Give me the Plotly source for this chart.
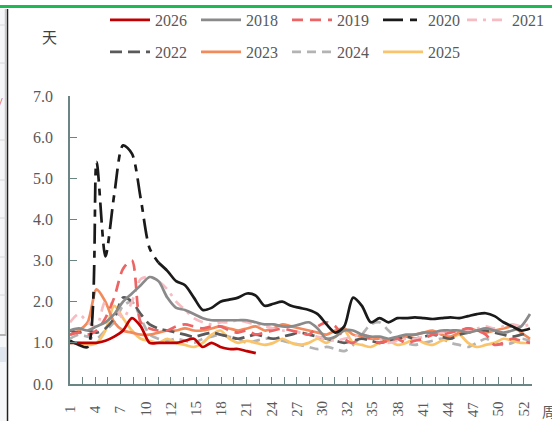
import plotly.graph_objects as go
import numpy as np

weeks = list(range(1, 54))

tick_labels = ["1", "4", "7", "10", "12", "15", "18", "21", "24", "27", "30",
               "32", "35", "38", "41", "44", "47", "50", "52"]

y_2026 = [1.0, 1.0, 1.0, 1.0, 1.05, 1.15, 1.3, 1.6, 1.4, 1.0, 1.0, 1.0, 1.0, 1.05,
          1.1, 0.9, 1.0, 0.9, 0.85, 0.85, 0.8, 0.75]
y_2018 = [1.3, 1.35, 1.3, 1.4, 1.5, 1.7, 2.0, 2.2, 2.4, 2.6, 2.5, 2.1, 1.85, 1.8,
          1.7, 1.6, 1.55, 1.55, 1.55, 1.55, 1.55, 1.5, 1.45, 1.45, 1.4, 1.4, 1.45,
          1.5, 1.35, 1.1, 1.15, 1.3, 1.3, 1.2, 1.15, 1.15, 1.1, 1.15, 1.2, 1.2,
          1.25, 1.25, 1.3, 1.3, 1.3, 1.25, 1.3, 1.35, 1.3, 1.25, 1.3, 1.4, 1.7]
y_2019 = [1.2, 1.25, 1.2, 1.3, 1.6, 2.1, 2.8, 3.0, 1.5, 1.35, 1.3, 1.3, 1.4, 1.45,
          1.4, 1.35, 1.4, 1.4, 1.3, 1.25, 1.3, 1.2, 1.25, 1.3, 1.35, 1.3, 1.25,
          1.2, 1.4, 1.5, 1.4, 1.1, 1.0, 1.2, 1.1, 1.0, 1.05, 1.1, 1.0, 1.05, 1.1,
          1.2, 1.2, 1.25, 1.3, 1.35, 1.3, 1.2, 0.95, 1.0, 1.1, 1.05, 1.0]
y_2020 = [1.05, 0.95, 0.9, 5.4, 3.1, 4.6, 5.8, 5.6, 4.5, 3.3, 2.95, 2.75, 2.5, 2.4,
          2.1, 1.8, 1.85, 2.0, 2.05, 2.1, 2.2, 2.15, 1.9, 1.95, 2.0, 1.9, 1.85,
          1.8, 1.7, 1.45, 1.25, 1.4, 2.1, 1.9, 1.5, 1.6, 1.5, 1.6, 1.6, 1.62, 1.6,
          1.58, 1.6, 1.62, 1.6, 1.65, 1.7, 1.72, 1.65, 1.5, 1.4, 1.3, 1.35]
y_2021 = [1.5, 1.7, 1.5, 1.4, 2.0, 1.9, 1.6, 2.0, 2.55, 2.6, 2.5, 2.3, 2.0, 1.8,
          1.6, 1.5, 1.45, 1.5, 1.5, 1.55, 1.5, 1.45, 1.4, 1.35, 1.3, 1.3, 1.25,
          1.2, 1.15, 1.1, 1.05, 1.1, 1.15, 1.2, 1.15, 1.1, 1.0, 1.05, 1.1, 1.1,
          1.15, 1.2, 1.25, 1.3, 1.3, 1.3, 1.35, 1.4, 1.35, 1.4, 1.45, 1.4, 1.45]
y_2022 = [1.3, 1.25, 1.3, 1.25, 1.35, 1.6, 2.1, 2.0, 1.7, 1.45, 1.35, 1.3, 1.25,
          1.2, 1.15, 1.2, 1.25, 1.2, 1.15, 1.1, 1.15, 1.2, 1.15, 1.1, 1.15, 1.2,
          1.25, 1.2, 1.15, 1.1, 1.05, 1.0, 1.05, 1.1, 1.05, 1.0, 1.05, 1.1, 1.15,
          1.1, 1.15, 1.2, 1.15, 1.1, 1.2, 1.25, 1.3, 1.3, 1.25, 1.2, 1.15, 1.2, 1.25]
y_2023 = [1.2, 1.3, 1.5, 2.3, 2.0, 1.5, 1.3, 1.25, 1.2, 1.2, 1.25, 1.3, 1.3, 1.35,
          1.3, 1.3, 1.35, 1.4, 1.35, 1.3, 1.35, 1.4, 1.3, 1.35, 1.45, 1.4, 1.35,
          1.3, 1.25, 1.2, 1.3, 1.35, 1.2, 1.15, 1.1, 1.1, 1.05, 1.1, 1.15, 1.2,
          1.25, 1.3, 1.2, 1.15, 1.25, 1.35, 1.3, 1.25, 1.3, 1.35, 1.4, 1.25, 1.1]
y_2024 = [1.1, 1.2, 1.15, 1.1, 1.3, 1.5, 1.9, 2.0, 1.6, 1.2, 1.1, 1.05, 1.1, 1.05,
          1.0, 1.1, 1.15, 1.2, 1.15, 1.1, 1.0, 1.05, 1.1, 1.1, 1.05, 1.0, 0.95,
          0.9, 0.85, 0.9, 0.85, 0.8, 0.95, 1.2, 1.45, 1.5, 1.3, 1.1, 1.0, 0.95,
          1.0, 1.05, 1.1, 1.0, 0.95, 0.9, 1.0, 1.1, 1.0, 0.95, 1.0, 1.1, 1.05]
y_2025 = [1.0, 1.0, 0.95, 1.0, 1.3, 1.9, 1.6, 1.3, 1.1, 1.05, 1.0, 1.1, 1.0, 0.95,
          0.9, 1.0, 1.2, 1.3, 1.1, 1.0, 1.05, 1.0, 0.95, 1.0, 1.1, 1.0, 0.95, 1.0,
          1.1, 1.0, 1.15, 1.3, 1.0, 0.95, 0.9, 1.0, 1.05, 0.95, 1.0, 1.1, 1.0,
          0.95, 1.05, 1.1, 1.2, 1.0, 0.9, 0.95, 1.0, 1.1, 1.05, 1.0, 1.0]

SERIF = "Liberation Serif"
AX = "#6b8585"
TXT = "#595959"

fig = go.Figure()

def add(name, y, color, dash, legend, width=2.7, showlegend=True, x=None):
    fig.add_trace(go.Scatter(
        x=x if x is not None else weeks[:len(y)], y=y, name=name, mode="lines",
        line=dict(color=color, width=width, dash=dash, shape="spline", smoothing=0.8),
        legend=legend, showlegend=showlegend))

add("2024", y_2024, "#b3b3b3", "9px,6px", "legend2")
add("2025", y_2025, "#f9c46b", "solid", "legend2")
add("2023", y_2023, "#f28a5c", "solid", "legend2")
add("2022", y_2022, "#5a5a5a", "12px,6px", "legend2")
add("2021", y_2021, "#f6bcc1", "10px,6px,3px,6px", "legend3")
add("2019", y_2019, "#ec6464", "11px,7px", "legend")
add("2018", y_2018, "#8a8a8a", "solid", "legend")
add("2020", y_2020[:11], "#1a1a1a", "20px,7px,7px,7px", "legend", x=weeks[:11])
add("2020", y_2020[10:], "#1a1a1a", "solid", "legend", showlegend=False, x=weeks[10:])
add("2026", y_2026, "#c00000", "solid", "legend")

order = {"2026": 1, "2018": 2, "2019": 3, "2020": 4, "2021": 5,
         "2022": 6, "2023": 7, "2024": 8, "2025": 9}
for tr in fig.data:
    tr.legendrank = order[tr.name]

x_lo = 1.0
x_hi = 1 + 462 / 8.846
tick_pos = list(np.linspace(x_lo, x_lo + 36 * 12.6 / 8.846, 37))
label_pos = tick_pos[::2]

def px(xp):
    return (xp - 70) / 462

def py(yp):
    return (384 - yp) / 288

annotations = []
for p, t in zip(label_pos, tick_labels):
    annotations.append(dict(x=p, y=py(409), xref="x", yref="paper", text=t,
                            textangle=-90, showarrow=False, xanchor="center",
                            yanchor="middle",
                            font=dict(family=SERIF, size=15, color=TXT)))
annotations.append(dict(x=px(540), y=py(411), xref="paper", yref="paper",
                        text="周", showarrow=False, xanchor="left", yanchor="middle",
                        font=dict(family="Noto Sans CJK SC", size=14, color=TXT)))
annotations.append(dict(x=px(49), y=py(36), xref="paper", yref="paper",
                        text="天", showarrow=False, xanchor="center", yanchor="middle",
                        font=dict(family="Noto Sans CJK SC", size=15, color="#404040")))
annotations.append(dict(x=px(1), y=py(101), xref="paper", yref="paper", text="/",
                        showarrow=False, xanchor="center", yanchor="middle",
                        font=dict(family=SERIF, size=13, color="#d04040")))

shapes = [
    dict(type="rect", xref="paper", yref="paper", x0=px(0), x1=px(6), y0=py(421), y1=py(9),
         fillcolor="#f6f7f9", line=dict(width=0), layer="below"),
    dict(type="rect", xref="paper", yref="paper", x0=px(0), x1=px(6), y0=py(362), y1=py(347),
         fillcolor="#dfe6ee", line=dict(width=0), layer="below"),
    dict(type="line", xref="paper", yref="paper", x0=px(5.5), x1=px(5.5), y0=py(336), y1=py(9),
         line=dict(color="#c8c8c8", width=1.5)),
    dict(type="line", xref="paper", yref="paper", x0=px(7.5), x1=px(7.5), y0=py(421), y1=py(9),
         line=dict(color="#202020", width=1.5)),
    dict(type="line", xref="paper", yref="paper", x0=px(-2), x1=px(554), y0=py(6.5), y1=py(6.5),
         line=dict(color="#1db954", width=3)),
]
for ly in [25, 63, 140, 180, 218, 257, 295]:
    shapes.append(dict(type="line", xref="paper", yref="paper", x0=px(0), x1=px(5.5),
                       y0=py(ly), y1=py(ly), line=dict(color="#d8d8d8", width=1)))
shapes.append(dict(type="line", xref="paper", yref="paper", x0=px(0), x1=px(5.5),
                   y0=py(335), y1=py(335), line=dict(color="#a0a0a0", width=1.5)))

legend_common = dict(orientation="h", xanchor="left", yanchor="middle",
                     xref="container", yref="container",
                     font=dict(family=SERIF, size=16, color=TXT),
                     bgcolor="rgba(0,0,0,0)", entrywidthmode="pixels",
                     itemwidth=40, traceorder="normal", itemclick=False)

fig.update_layout(
    width=552, height=421,
    margin=dict(l=70, r=20, t=96, b=37, pad=0),
    paper_bgcolor="white", plot_bgcolor="white",
    showlegend=True,
    legend=dict(x=105 / 552, y=1 - 20 / 421, entrywidth=36, **legend_common),
    legend3=dict(x=462 / 552, y=1 - 20 / 421, entrywidth=34, **legend_common),
    legend2=dict(x=105 / 552, y=1 - 52 / 421, entrywidth=36, **legend_common),
    xaxis=dict(range=[x_lo, x_hi], showgrid=False, zeroline=False, showline=True,
               linecolor=AX, linewidth=1.5, ticks="inside", ticklen=7, tickcolor=AX,
               tickwidth=1.3, tickmode="array", tickvals=tick_pos, showticklabels=False,
               automargin=False),
    yaxis=dict(range=[0, 7], showgrid=False, zeroline=False, showline=True,
               linecolor=AX, linewidth=1.5, ticks="inside", ticklen=7, tickcolor=AX,
               tickwidth=1.3, tickmode="array", tickvals=[0, 1, 2, 3, 4, 5, 6, 7],
               ticktext=["0.0", "1.0", "2.0", "3.0", "4.0", "5.0", "6.0", "7.0"],
               tickfont=dict(family=SERIF, size=16, color=TXT),
               ticklabelstandoff=12, automargin=False),
    annotations=annotations,
    shapes=shapes,
)

fig.write_html("out.html", config={"displayModeBar": False},
               post_script="document.body.style.margin='0';document.body.style.overflow='hidden';")
